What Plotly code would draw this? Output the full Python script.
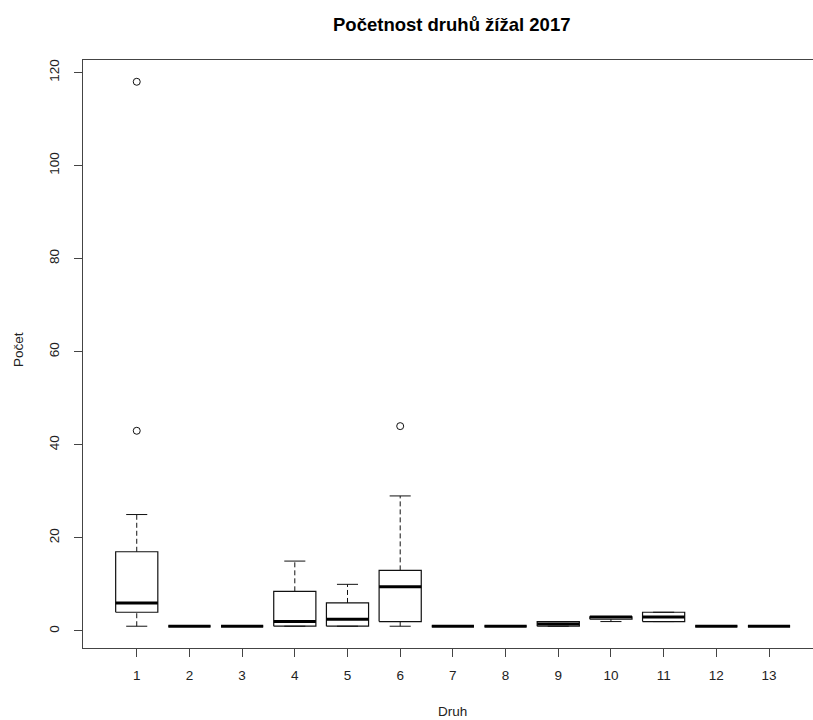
import plotly.graph_objects as go

# Five-number summaries per earthworm species (druh) for 2017
druh = list(range(1, 14))
dolni_vous = [1, 1, 1, 1, 1, 1, 1, 1, 1, 2, 2, 1, 1]
q1 = [4, 1, 1, 1, 1, 2, 1, 1, 1, 2.5, 2, 1, 1]
median = [6, 1, 1, 2, 2.5, 9.5, 1, 1, 1.5, 3, 3, 1, 1]
q3 = [17, 1, 1, 8.5, 6, 13, 1, 1, 2, 3, 4, 1, 1]
horni_vous = [25, 1, 1, 15, 10, 29, 1, 1, 2, 3, 4, 1, 1]

# Outlying counts
odlehle_druh = [1, 1, 6]
odlehle_pocet = [118, 43, 44]

BOX_HALF = 0.4
CAP_HALF = 0.2
INK = "#111111"
FONT = "Liberation Sans, Arial, sans-serif"

box_x, box_y = [], []
med_x, med_y = [], []
wh_x, wh_y = [], []
cap_x, cap_y = [], []
for d, lo, a, m, b, hi in zip(druh, dolni_vous, q1, median, q3, horni_vous):
    box_x += [d - BOX_HALF, d + BOX_HALF, d + BOX_HALF, d - BOX_HALF, d - BOX_HALF, None]
    box_y += [a, a, b, b, a, None]
    med_x += [d - BOX_HALF, d + BOX_HALF, None]
    med_y += [m, m, None]
    if hi > b:
        wh_x += [d, d, None]
        wh_y += [b, hi, None]
    if lo < a:
        wh_x += [d, d, None]
        wh_y += [lo, a, None]
    cap_x += [d - CAP_HALF, d + CAP_HALF, None, d - CAP_HALF, d + CAP_HALF, None]
    cap_y += [hi, hi, None, lo, lo, None]

fig = go.Figure()
fig.add_trace(go.Scatter(x=wh_x, y=wh_y, mode="lines",
                         line=dict(color=INK, width=1, dash="5px,3px"),
                         hoverinfo="skip", showlegend=False))
fig.add_trace(go.Scatter(x=cap_x, y=cap_y, mode="lines",
                         line=dict(color=INK, width=1),
                         hoverinfo="skip", showlegend=False))
fig.add_trace(go.Scatter(x=box_x, y=box_y, mode="lines",
                         line=dict(color=INK, width=1.2),
                         hoverinfo="skip", showlegend=False))
fig.add_trace(go.Scatter(x=med_x, y=med_y, mode="lines",
                         line=dict(color="#000000", width=3),
                         hoverinfo="skip", showlegend=False))
fig.add_trace(go.Scatter(x=odlehle_druh, y=odlehle_pocet, mode="markers",
                         marker=dict(symbol="circle-open", size=7,
                                     color=INK, line=dict(width=1)),
                         showlegend=False))

L, T, B = 83, 60, 72
W, H = 813, 720
pw, ph = W - L, H - T - B

fig.update_layout(
    width=W, height=H,
    margin=dict(l=L, r=0, t=T, b=B, pad=0),
    paper_bgcolor="white", plot_bgcolor="white",
    font=dict(family=FONT, size=13.5, color="#222222"),
    xaxis=dict(range=[-0.02, 13.835], tickmode="array", tickvals=druh,
               ticktext=[str(d) for d in druh],
               showgrid=False, zeroline=False,
               showline=True, linecolor="#444444", linewidth=1, mirror=True,
               ticks="outside", ticklen=8, tickcolor="#444444",
               ticklabelstandoff=7),
    yaxis=dict(range=[-3.68, 122.68], tickmode="array",
               tickvals=[0, 20, 40, 60, 80, 100, 120],
               showgrid=False, zeroline=False,
               showline=True, linecolor="#444444", linewidth=1, mirror=False,
               ticks="outside", ticklen=8, tickcolor="#444444",
               tickangle=-90, ticklabelstandoff=10),
    annotations=[
        dict(text="<b>Početnost druhů žížal 2017</b>", xref="paper", yref="paper",
             x=(451 - L) / pw, y=1 + (T - 25) / ph, xanchor="center", yanchor="middle",
             showarrow=False, font=dict(family=FONT, size=18.5, color="#000000")),
        dict(text="Druh", xref="paper", yref="paper",
             x=(452.9 - L) / pw, y=-(712 - (T + ph)) / ph, xanchor="center", yanchor="middle",
             showarrow=False, font=dict(family=FONT, size=13.5, color="#222222")),
        dict(text="Počet", xref="paper", yref="paper",
             x=(18 - L) / pw, y=(T + ph - 350) / ph, xanchor="center", yanchor="middle",
             textangle=-90, showarrow=False,
             font=dict(family=FONT, size=13.5, color="#222222")),
    ],
)

fig.write_html("out.html")
